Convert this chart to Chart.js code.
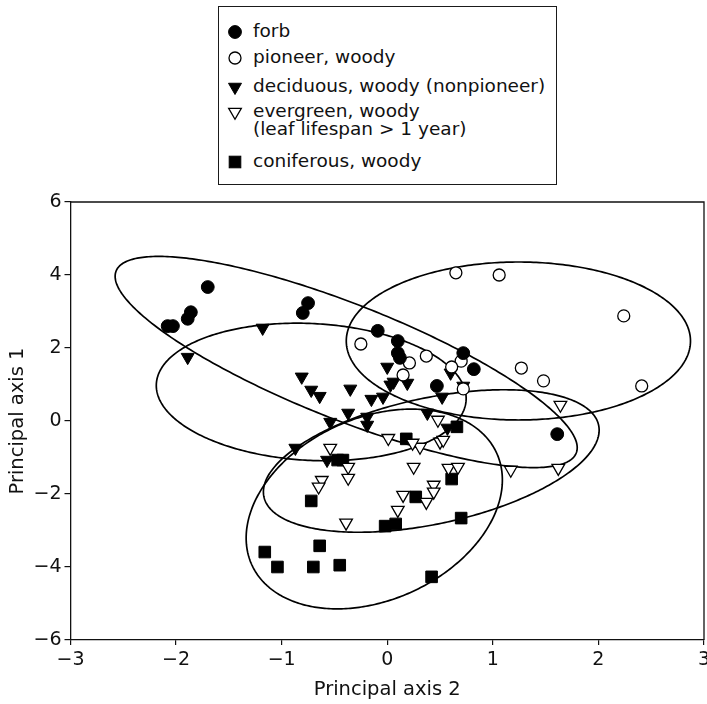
<!DOCTYPE html>
<html>
<head>
<meta charset="utf-8">
<script src="https://cdn.jsdelivr.net/npm/chart.js@4.4.1/dist/chart.umd.min.js"></script>
<style>
html,body{margin:0;padding:0;background:#fff;overflow:hidden;}
#wrap{position:relative;width:707px;height:704px;}
#chart{position:absolute;left:0;top:0;}
#legend{position:absolute;left:218px;top:6px;width:339px;height:179px;border:1.3px solid #1a1a1a;box-sizing:border-box;font-family:"DejaVu Sans",sans-serif;font-size:18.5px;color:#111;background:#fff;}
.item{position:absolute;left:0;white-space:nowrap;}
.item svg{position:absolute;left:7px;}
.item .txt{position:absolute;left:34px;top:0;line-height:18.5px;}
</style>
</head>
<body>
<div id="wrap">
<canvas id="chart" width="707" height="704"></canvas>
<div id="legend"></div>
</div>
<script>
// ---- categories / legend ----
const categories = ['forb', 'pioneer, woody', 'deciduous, woody (nonpioneer)', ['evergreen, woody', '(leaf lifespan > 1 year)'], 'coniferous, woody'];

// ---- tick labels ----
const xTicks = [-3, -2, -1, 0, 1, 2, 3];
const yTicks = [-6, -4, -2, 0, 2, 4, 6];
const xTitle = 'Principal axis 2';
const yTitle = 'Principal axis 1';

// ---- series values (x = principal axis 2, y = principal axis 1) ----
const forbX = [-1.70, -2.08, -2.03, -1.89, -1.86, -0.80, -0.75, -0.09, 0.10, 0.10, 0.12, 0.72, 0.82, 0.47, 1.61];
const forbY = [3.67, 2.60, 2.60, 2.80, 2.98, 2.96, 3.23, 2.47, 2.19, 1.86, 1.73, 1.86, 1.42, 0.96, -0.36];

const pioneerX = [0.65, 1.06, 2.24, 2.41, 1.27, 1.48, -0.25, 0.37, 0.21, 0.15, 0.70, 0.61, 0.72];
const pioneerY = [4.06, 4.00, 2.88, 0.96, 1.45, 1.10, 2.11, 1.78, 1.59, 1.26, 1.64, 1.48, 0.88];

const deciduousX = [-1.18, -1.89, -0.81, -0.72, -0.64, -0.35, -0.15, -0.04, 0.00, 0.03, 0.06, 0.19, -0.37, -0.19, -0.54, -0.19, -0.87, -0.57, 0.60, 0.72, 0.52, 0.38, 0.57];
const deciduousY = [2.55, 1.75, 1.21, 0.85, 0.68, 0.88, 0.60, 0.66, 1.48, 0.99, 1.07, 1.04, 0.22, 0.11, -0.03, -0.11, -0.74, -1.07, 1.32, 0.96, 0.66, 0.22, -0.19];

const evergreenX = [1.64, 1.62, 1.17, 0.48, 0.50, 0.53, 0.01, 0.31, 0.24, -0.54, -0.37, -0.37, -0.62, -0.65, -0.39, 0.25, 0.58, 0.67, 0.44, 0.44, 0.15, 0.37, 0.10];
const evergreenY = [0.44, -1.29, -1.34, 0.03, -0.57, -0.52, -0.47, -0.71, -0.60, -0.74, -1.26, -1.56, -1.62, -1.80, -2.79, -1.26, -1.29, -1.26, -1.75, -1.94, -2.03, -2.22, -2.44];

const coniferousX = [-1.16, -1.04, -0.70, -0.45, -0.64, -0.72, -0.47, -0.42, -0.02, 0.08, 0.18, 0.66, 0.61, 0.27, 0.70, 0.42];
const coniferousY = [-3.59, -4.00, -4.00, -3.95, -3.42, -2.19, -1.07, -1.07, -2.88, -2.82, -0.49, -0.16, -1.59, -2.08, -2.66, -4.27];

// ---- group ellipses (centre and two conjugate semi-axes, data units) ----
// order: forb, pioneer, deciduous, evergreen, coniferous
const ellipseCX = [-0.389, 1.242, -0.720, 0.417, -0.123];
const ellipseCY = [1.616, 2.192, 0.795, -1.096, -2.411];
const ellipseUX = [2.179, 1.630, 1.467, 1.585, 1.159];
const ellipseUY = [-2.493, 0.000, -0.219, 0.981, 1.534];
const ellipseVX = [-0.201, 0.000, -0.033, 0.125, 0.359];
const ellipseVY = [-1.468, 2.164, -1.872, -1.688, -2.266];

const FONT = '"DejaVu Sans", sans-serif';
const INK = '#111';

function pts(xs, ys) { return xs.map((x, i) => ({x: x, y: ys[i]})); }
function fmt(v) { return v < 0 ? '\u2212' + Math.abs(v) : String(v); }

const markerDefs = [
  {pointStyle: 'circle', rotation: 0, pointRadius: 6.4, fill: '#000', bw: 1},
  {pointStyle: 'circle', rotation: 0, pointRadius: 6.0, fill: '#fff', bw: 1.3},
  {pointStyle: 'triangle', rotation: 180, pointRadius: 7.5, fill: '#000', bw: 1},
  {pointStyle: 'triangle', rotation: 180, pointRadius: 7.3, fill: '#fff', bw: 1.3},
  {pointStyle: 'rect', rotation: 0, pointRadius: 8.2, fill: '#000', bw: 1}
];
const seriesX = [forbX, pioneerX, deciduousX, evergreenX, coniferousX];
const seriesY = [forbY, pioneerY, deciduousY, evergreenY, coniferousY];

const datasets = categories.map((c, i) => ({
  label: Array.isArray(c) ? c.join(' ') : c,
  data: pts(seriesX[i], seriesY[i]),
  pointStyle: markerDefs[i].pointStyle,
  rotation: markerDefs[i].rotation,
  pointRadius: markerDefs[i].pointRadius,
  pointHoverRadius: markerDefs[i].pointRadius,
  backgroundColor: markerDefs[i].fill,
  borderColor: '#000',
  pointBorderWidth: markerDefs[i].bw,
  showLine: false
}));

const ellipsePlugin = {
  id: 'ellipses',
  beforeDatasetsDraw(chart) {
    const {ctx, chartArea: a, scales: {x, y}} = chart;
    ctx.save();
    ctx.beginPath();
    ctx.rect(a.left, a.top, a.right - a.left, a.bottom - a.top);
    ctx.clip();
    ctx.strokeStyle = '#000';
    ctx.lineWidth = 1.7;
    const N = 360;
    for (let k = 0; k < ellipseCX.length; k++) {
      ctx.beginPath();
      for (let i = 0; i <= N; i++) {
        const t = i / N * 2 * Math.PI;
        const dx = ellipseCX[k] + ellipseUX[k] * Math.cos(t) + ellipseVX[k] * Math.sin(t);
        const dy = ellipseCY[k] + ellipseUY[k] * Math.cos(t) + ellipseVY[k] * Math.sin(t);
        const px = x.getPixelForValue(dx), py = y.getPixelForValue(dy);
        if (i === 0) ctx.moveTo(px, py); else ctx.lineTo(px, py);
      }
      ctx.closePath();
      ctx.stroke();
    }
    ctx.restore();
  }
};

const framePlugin = {
  id: 'frame',
  afterDraw(chart) {
    const {ctx, chartArea: a} = chart;
    ctx.save();
    ctx.strokeStyle = INK;
    ctx.lineWidth = 1.3;
    ctx.beginPath();
    ctx.moveTo(a.left, a.top);
    ctx.lineTo(a.right, a.top);
    ctx.lineTo(a.right, a.bottom);
    ctx.stroke();
    ctx.restore();
  }
};

function zeroPad(s) { s.paddingLeft = 0; s.paddingRight = 0; s.paddingTop = 0; s.paddingBottom = 0; }

new Chart(document.getElementById('chart'), {
  type: 'scatter',
  data: {datasets: datasets},
  options: {
    responsive: false,
    animation: false,
    devicePixelRatio: 1,
    layout: {padding: {top: 202, right: 3, left: 0, bottom: 0}, autoPadding: false},
    plugins: {legend: {display: false}, tooltip: {enabled: false}},
    events: [],
    scales: {
      x: {
        type: 'linear', min: xTicks[0], max: xTicks[xTicks.length - 1],
        afterBuildTicks: s => { s.ticks = xTicks.map(v => ({value: v})); },
        ticks: {callback: fmt, font: {family: FONT, size: 19}, color: INK, padding: 4, maxRotation: 0, autoSkip: false},
        grid: {display: true, drawOnChartArea: false, drawTicks: true, tickLength: 5, color: INK, lineWidth: 1.2},
        border: {display: true, color: INK, width: 1.3},
        title: {display: true, text: xTitle, font: {family: FONT, size: 19.5}, color: INK, padding: {top: 0, bottom: 2}},
        afterFit: s => { s.height = 64; zeroPad(s); }
      },
      y: {
        type: 'linear', min: yTicks[0], max: yTicks[yTicks.length - 1],
        afterBuildTicks: s => { s.ticks = yTicks.map(v => ({value: v})); },
        ticks: {callback: fmt, font: {family: FONT, size: 19}, color: INK, padding: 3, autoSkip: false},
        grid: {display: true, drawOnChartArea: false, drawTicks: true, tickLength: 6, color: INK, lineWidth: 1.2},
        border: {display: true, color: INK, width: 1.3},
        title: {display: true, text: yTitle, font: {family: FONT, size: 19.5}, color: INK, padding: {top: 6, bottom: 0}},
        afterFit: s => { s.width = 70.5; zeroPad(s); }
      }
    }
  },
  plugins: [ellipsePlugin, framePlugin]
});

// ---- HTML legend built from the categories ----
const legendRowCenters = [32, 58.5, 87, 112, 162]; // y centre of each entry's first line (page px)
function markerSvg(i) {
  const m = markerDefs[i];
  const fill = m.fill, sw = m.bw;
  let shape = '';
  if (m.pointStyle === 'circle') shape = `<circle cx="9" cy="9" r="${m.pointRadius}" fill="${fill}" stroke="#000" stroke-width="${sw}"/>`;
  else if (m.pointStyle === 'triangle') {
    const r = m.pointRadius, h = r * Math.sqrt(3) / 2;
    shape = `<polygon points="${9 - h},${9 - r / 2} ${9 + h},${9 - r / 2} 9,${9 + r}" fill="${fill}" stroke="#000" stroke-width="${sw}"/>`;
  } else {
    const s = m.pointRadius * Math.SQRT1_2;
    shape = `<rect x="${9 - s}" y="${9 - s}" width="${2 * s}" height="${2 * s}" fill="${fill}" stroke="#000" stroke-width="${sw}"/>`;
  }
  return `<svg width="18" height="18" viewBox="0 0 18 18">${shape}</svg>`;
}
const legendEl = document.getElementById('legend');
const boxTop = 6 + 1.3;
categories.forEach((c, i) => {
  const lines = Array.isArray(c) ? c : [c];
  const item = document.createElement('div');
  item.className = 'item';
  const cy = legendRowCenters[i] - boxTop;
  item.style.top = (cy - 9) + 'px';
  item.innerHTML = markerSvg(i) + `<div class="txt" style="top:${-1}px">${lines.map(l => l.replace(/>/g, '&gt;')).join('<br>')}</div>`;
  legendEl.appendChild(item);
});
</script>
</body>
</html>
